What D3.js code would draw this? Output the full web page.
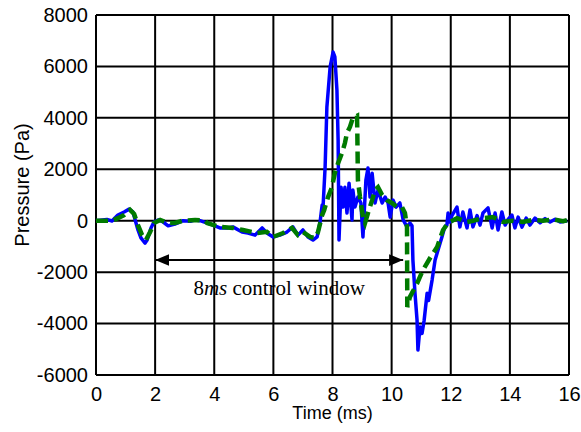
<!DOCTYPE html>
<html>
<head>
<meta charset="utf-8">
<script src="https://cdn.jsdelivr.net/npm/d3@7"></script>
<style>
  html, body { margin: 0; padding: 0; background: #fff; }
  svg { display: block; }
</style>
</head>
<body>
<svg id="chart" width="581" height="432"></svg>
<script>
// Measured pressure (blue, solid) – time in ms, pressure in Pa
const blueTime = [0, 0.37, 0.54, 0.74, 0.95, 1.12, 1.25, 1.42, 1.52, 1.66, 1.73, 1.86, 1.96, 2.1, 2.27, 2.44, 2.67, 2.94, 3.2, 3.35, 3.52,
  3.96, 4.19, 4.47, 4.63, 4.94, 5.14, 5.38, 5.62, 5.78, 5.99, 6.22, 6.46, 6.66, 6.83, 7.0, 7.17, 7.34, 7.48, 7.58, 7.65,
  7.68, 7.75, 7.81, 7.92, 8.02, 8.08, 8.15, 8.19, 8.22, 8.29, 8.36, 8.42, 8.49, 8.56, 8.66, 8.69, 8.76, 8.86, 8.96, 9.03,
  9.13, 9.2, 9.27, 9.34, 9.44, 9.54, 9.68, 9.78, 9.88, 9.95, 10.05, 10.15, 10.28, 10.39, 10.52, 10.62, 10.69, 10.72, 10.79,
  10.86, 10.89, 10.96, 11.03, 11.1, 11.2, 11.25, 11.37, 11.47, 11.57, 11.7, 11.8, 11.87, 11.91, 11.97, 12.04, 12.21, 12.31,
  12.41, 12.55, 12.65, 12.75, 12.89, 12.99, 13.09, 13.26, 13.4, 13.5, 13.6, 13.73, 13.84, 13.94, 14.07, 14.17, 14.28, 14.41,
  14.55, 14.68, 14.85, 15.02, 15.19, 15.36, 15.53, 15.7, 15.94];
const bluePressure = [0, 50, -10, 220, 340, 450, 340, -360, -670, -870, -750, -280, -50, 30, -50, -200, -130, 0, -20, 30, 0,
  -170, -280, -280, -240, -440, -480, -560, -280, -480, -630, -560, -440, -240, -560, -360, -630, -750, -630, -50, 610,
  530, 2080, 4420, 5980, 6560, 6370, 5080, 3140, -750, 1300, 530, 1300, 300, 1460, 30, 1190, 530, 920, 690, -630,
  1580, 2050, 920, 1850, 690, 1190, 690, 920, 690, 140, 800, 530, 690, 30, -240, -90, -200, -1530, -2820,
  -3870, -5030, -4130, -4380, -3870, -2820, -3100, -2300, -1530, -1140, -640, -240, -170, 300, -50, 200, 530, -240,
  340, -280, 420, -240, 200, -170, 300, 500, -280, 300, -360, 340, -170, 50, 220, -280, 140, -250,
  100, -170, 100, -80, 80, -50, 60, -50, 0];

// Controlled pressure (green, dashed)
const greenTime = [0, 0.3, 0.54, 0.74, 0.95, 1.15, 1.29, 1.42, 1.56, 1.69, 1.83, 1.96, 2.17, 2.44, 2.67, 2.94, 3.35, 3.69,
  3.76, 4.19, 4.63, 4.97, 5.45, 5.78, 5.99, 6.33, 6.63, 6.83, 7.0, 7.24, 7.41, 7.51, 7.65, 7.72, 7.85, 7.98, 8.08, 8.19,
  8.32, 8.42, 8.49, 8.59, 8.69, 8.83, 8.84, 8.86, 8.93, 9.03, 9.1, 9.2, 9.34, 9.44, 9.54, 9.68, 9.84, 10.01, 10.18, 10.35,
  10.45, 10.52, 10.53, 10.62, 10.86, 11.06, 11.3, 11.54, 11.74, 11.91, 12.21, 12.55, 12.75, 13.09, 13.43, 13.77, 14.1,
  14.44, 14.78, 15.12, 15.46, 15.8, 15.94];
const greenPressure = [0, 0, 0, 100, 220, 420, 260, -170, -560, -750, -440, -90, 30, -90, -90, 0, 30, 0,
  -90, -240, -280, -360, -480, -430, -630, -480, -280, -560, -440, -630, -670, -440, 220, 420, 920, 1300, 1850, 2240,
  2630, 3020, 3410, 3650, 4000, 4080, 3410, 1580, 920, 140, -90, 300, 800, 1190, 1300, 1000, 800, 690, 530, 530,
  300, -240, -3360, -2960, -2440, -1920, -1450, -1020, -360, -90, 100, -50, 0, 100, 140, -50, 0,
  -50, 30, 0, 50, -20, 20];

// Axis ticks
const xTicks = [0, 2, 4, 6, 8, 10, 12, 14, 16];
const yTicks = [-6000, -4000, -2000, 0, 2000, 4000, 6000, 8000];

// Control-window annotation (ms, Pa)
const windowStart = 2;
const windowEnd = 10.39;
const windowLevel = -1530;
const windowLabel = ["8", "ms", " control window"];

const svg = d3.select("#chart");
const plot = { left: 96, right: 569, top: 15, bottom: 375 };

const x = d3.scaleLinear().domain([0, 16]).range([plot.left, plot.right]);
const y = d3.scaleLinear().domain([-6000, 8000]).range([plot.bottom, plot.top]);

// Grid
const grid = svg.append("g").attr("stroke", "#000").attr("stroke-width", 2);
grid.selectAll("line.v").data(xTicks).join("line")
  .attr("x1", d => x(d)).attr("x2", d => x(d))
  .attr("y1", plot.top).attr("y2", plot.bottom);
grid.selectAll("line.h").data(yTicks).join("line")
  .attr("x1", plot.left).attr("x2", plot.right)
  .attr("y1", d => y(d)).attr("y2", d => y(d));

// Axes (labels only; frame drawn by the grid lines)
const plain = d => String(d);
const xAxis = svg.append("g")
  .attr("transform", `translate(0,${plot.bottom})`)
  .call(d3.axisBottom(x).tickValues(xTicks).tickSize(0).tickPadding(12).tickFormat(plain));
const yAxis = svg.append("g")
  .attr("transform", `translate(${plot.left},0)`)
  .call(d3.axisLeft(y).tickValues(yTicks).tickSize(0).tickPadding(8).tickFormat(plain));
[xAxis, yAxis].forEach(a => {
  a.select(".domain").remove();
  a.selectAll("text").attr("font-family", "Arial, 'Liberation Sans', sans-serif")
    .attr("font-size", 20).attr("fill", "#000");
});

// Axis titles
svg.append("text")
  .attr("x", (plot.left + plot.right) / 2).attr("y", 419)
  .attr("text-anchor", "middle")
  .attr("font-family", "Arial, 'Liberation Sans', sans-serif").attr("font-size", 18)
  .text("Time (ms)");
svg.append("text")
  .attr("transform", `translate(29,185) rotate(-90)`)
  .attr("text-anchor", "middle")
  .attr("font-family", "Arial, 'Liberation Sans', sans-serif").attr("font-size", 20)
  .text("Pressure (Pa)");

// Series
const blueData = blueTime.map((t, i) => [t, bluePressure[i]]);
const greenData = greenTime.map((t, i) => [t, greenPressure[i]]);
const line = d3.line().x(d => x(d[0])).y(d => y(d[1]));

svg.append("path").datum(blueData)
  .attr("d", line).attr("fill", "none")
  .attr("stroke", "#0000ff").attr("stroke-width", 3.5).attr("stroke-linejoin", "round");
svg.append("path").datum(greenData)
  .attr("d", line).attr("fill", "none")
  .attr("stroke", "#007a00").attr("stroke-width", 4.5).attr("stroke-dasharray", "12,6");

// Control window arrow
const defs = svg.append("defs");
["start", "end"].forEach(k => {
  defs.append("marker")
    .attr("id", "arrow-" + k)
    .attr("viewBox", "0 0 12 10").attr("refX", k === "end" ? 12 : 0).attr("refY", 5)
    .attr("markerUnits", "userSpaceOnUse").attr("markerWidth", 14).attr("markerHeight", 12)
    .attr("orient", "auto")
    .append("path")
    .attr("d", k === "end" ? "M0,0 L12,5 L0,10 Z" : "M12,0 L0,5 L12,10 Z")
    .attr("fill", "#000");
});
svg.append("line")
  .attr("x1", x(windowStart)).attr("x2", x(windowEnd))
  .attr("y1", y(windowLevel)).attr("y2", y(windowLevel))
  .attr("stroke", "#000").attr("stroke-width", 2)
  .attr("marker-start", "url(#arrow-start)").attr("marker-end", "url(#arrow-end)");

const label = svg.append("text")
  .attr("x", x((windowStart + windowEnd) / 2)).attr("y", 295)
  .attr("text-anchor", "middle")
  .attr("font-family", "'Times New Roman', 'Liberation Serif', serif").attr("font-size", 21);
label.append("tspan").text(windowLabel[0]);
label.append("tspan").attr("font-style", "italic").text(windowLabel[1]);
label.append("tspan").text(windowLabel[2]);
</script>
</body>
</html>
